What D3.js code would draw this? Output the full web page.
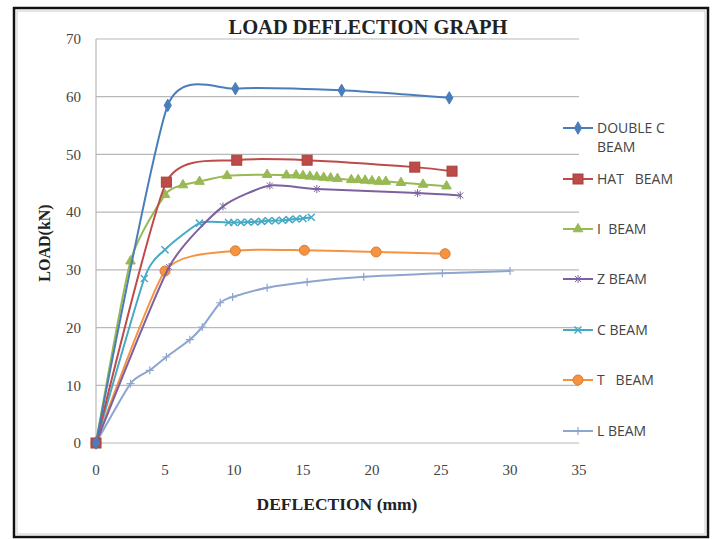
<!DOCTYPE html>
<html>
<head>
<meta charset="utf-8">
<script src="https://cdn.jsdelivr.net/npm/d3@7"></script>
<style>
  body { margin: 0; background: #fff; }
  .tick-label { font-family: "Liberation Serif", "DejaVu Serif", serif; font-size: 15px; fill: #444; }
  .legend-label { font-family: "Open Sans", "Liberation Sans", sans-serif; font-size: 14px; fill: #444; white-space: pre; }
</style>
</head>
<body>
<div id="chart"></div>
<script>
// series names, as in the legend
var seriesNames = ["DOUBLE C\nBEAM", "HAT   BEAM", "I  BEAM", "Z BEAM", "C BEAM", "T   BEAM", "L BEAM"]

// [deflection mm, load kN]
var doubleC = [[0, 0], [5.2, 58.5], [10.1, 61.4], [17.8, 61.1], [25.6, 59.8]]
var hatBeam = [[0, 0], [5.1, 45.2], [10.2, 49], [15.3, 49], [23.1, 47.8], [25.8, 47.1]]
var iBeam = [[0, 0], [2.5, 31.5], [5, 43], [6.3, 44.7], [7.5, 45.3], [9.5, 46.3], [12.4, 46.5],
  [13.8, 46.4], [14.5, 46.4], [15, 46.3], [15.5, 46.2], [16, 46.1], [16.5, 46], [17, 45.9], [17.5, 45.8],
  [18.5, 45.6], [19, 45.6], [19.5, 45.5], [20, 45.4], [20.5, 45.3], [21, 45.3], [22.1, 45.1],
  [23.7, 44.8], [25.4, 44.5]]
var zBeam = [[0, 0], [5.3, 30.5], [9.2, 41], [12.6, 44.6], [16, 44], [23.3, 43.3], [26.4, 42.9]]
var cBeam = [[0, 0], [3.5, 28.5], [5, 33.5], [7.5, 38.1], [9.6, 38.2], [10, 38.2], [10.5, 38.2], [11, 38.3],
  [11.5, 38.3], [12, 38.4], [12.5, 38.5], [13, 38.5], [13.5, 38.6], [14, 38.7], [14.5, 38.8],
  [15, 38.9], [15.6, 39.1]]
var tBeam = [[0, 0], [5, 29.8], [10.1, 33.3], [15.1, 33.4], [20.3, 33.1], [25.3, 32.8]]
var lBeam = [[0, 0], [2.5, 10.3], [3.9, 12.6], [5.1, 14.9], [6.8, 17.9], [7.7, 20.1], [9, 24.3],
  [9.9, 25.3], [12.4, 26.9], [15.3, 27.9], [19.4, 28.8], [25.1, 29.4], [30, 29.8]]

var xTicks = [0, 5, 10, 15, 20, 25, 30, 35]
var yTicks = [0, 10, 20, 30, 40, 50, 60, 70]

var seriesData = [doubleC, hatBeam, iBeam, zBeam, cBeam, tBeam, lBeam]
var colors = ["#4A7EBB", "#BE4B48", "#98B954", "#7D60A0", "#46AAC5", "#F69240", "#8DA5CF"]
var shapes = ["diamond", "square", "triangle", "star", "x", "circle", "plus"]

var W = 715, H = 539
var margin = { top: 39, left: 96, right: 135, bottom: 96 }

var svg = d3.select("#chart").append("svg")
  .attr("width", W)
  .attr("height", H)

// frame
svg.append("rect")
  .attr("x", 14).attr("y", 8).attr("width", 694).attr("height", 529)
  .attr("fill", "#fff").attr("stroke", "#111").attr("stroke-width", 2.5)
svg.append("rect")
  .attr("x", 17).attr("y", 11).attr("width", 688).attr("height", 523)
  .attr("fill", "none").attr("stroke", "#ccc").attr("stroke-width", 1)

var x = d3.scaleLinear().domain([0, 35]).range([margin.left, 579])
var y = d3.scaleLinear().domain([0, 70]).range([443, margin.top])

// gridlines
svg.append("g").selectAll("line")
  .data(yTicks)
  .enter().append("line")
  .attr("x1", x(0)).attr("x2", x(35))
  .attr("y1", function (d) { return y(d) }).attr("y2", function (d) { return y(d) })
  .attr("stroke", "#b8b8b8").attr("stroke-width", 1.2)

svg.append("line")
  .attr("x1", x(0)).attr("x2", x(0)).attr("y1", y(70)).attr("y2", y(0))
  .attr("stroke", "#b8b8b8").attr("stroke-width", 1.2)

// tick labels
svg.append("g").selectAll("text")
  .data(yTicks)
  .enter().append("text")
  .attr("class", "tick-label")
  .attr("x", 81).attr("y", function (d) { return y(d) })
  .attr("dy", "0.35em").attr("text-anchor", "end")
  .text(function (d) { return d })

svg.append("g").selectAll("text")
  .data(xTicks)
  .enter().append("text")
  .attr("class", "tick-label")
  .attr("x", function (d) { return x(d) }).attr("y", 470)
  .attr("dy", "0.35em").attr("text-anchor", "middle")
  .text(function (d) { return d })

// titles
svg.append("text")
  .attr("x", 368).attr("y", 34)
  .attr("text-anchor", "middle")
  .style("font-family", "'Liberation Serif', serif").style("font-weight", "bold").style("font-size", "20.5px")
  .attr("fill", "#222")
  .text("LOAD DEFLECTION GRAPH")

svg.append("text")
  .attr("transform", "translate(50,243) rotate(-90)")
  .attr("text-anchor", "middle")
  .style("font-family", "'Liberation Serif', serif").style("font-weight", "bold").style("font-size", "16px")
  .attr("fill", "#222")
  .text("LOAD(kN)")

svg.append("text")
  .attr("x", 337).attr("y", 510)
  .attr("text-anchor", "middle")
  .style("font-family", "'Liberation Serif', serif").style("font-weight", "bold").style("font-size", "17.5px")
  .attr("fill", "#222")
  .text("DEFLECTION (mm)")

// markers
function drawMarker(g, shape, color, cx, cy) {
  if (shape == "diamond") {
    g.append("path").attr("d", d3.symbol(d3.symbolDiamond, 45)()).attr("transform", "translate(" + cx + "," + cy + ")")
      .attr("fill", color).attr("stroke", color)
  } else if (shape == "square") {
    g.append("rect").attr("x", cx - 5).attr("y", cy - 5).attr("width", 10).attr("height", 10)
      .attr("fill", color).attr("stroke", d3.color(color).darker(0.4))
  } else if (shape == "triangle") {
    g.append("path").attr("d", d3.symbol(d3.symbolTriangle, 40)()).attr("transform", "translate(" + cx + "," + cy + ")")
      .attr("fill", color).attr("stroke", color)
  } else if (shape == "circle") {
    g.append("circle").attr("cx", cx).attr("cy", cy).attr("r", 5)
      .attr("fill", color).attr("stroke", d3.color(color).darker(0.4))
  } else if (shape == "x") {
    g.append("path").attr("d", "M-3.5,-3.5L3.5,3.5M-3.5,3.5L3.5,-3.5").attr("transform", "translate(" + cx + "," + cy + ")")
      .attr("stroke", color).attr("stroke-width", 1.5)
  } else if (shape == "star") {
    g.append("path").attr("d", "M-3,-3L3,3M-3,3L3,-3M0,-4L0,4").attr("transform", "translate(" + cx + "," + cy + ")")
      .attr("stroke", color).attr("stroke-width", 1)
  } else if (shape == "plus") {
    g.append("path").attr("d", "M-4,0L4,0M0,-4L0,4").attr("transform", "translate(" + cx + "," + cy + ")")
      .attr("stroke", color).attr("stroke-width", 1.2)
  }
}

var line = d3.line()
  .x(function (d) { return x(d[0]) })
  .y(function (d) { return y(d[1]) })
  .curve(d3.curveCardinal.tension(0.4))

// draw in reverse so the first series sits on top
for (var i = seriesData.length - 1; i >= 0; i--) {
  var g = svg.append("g")
  g.append("path")
    .attr("d", line(seriesData[i]))
    .attr("fill", "none")
    .attr("stroke", colors[i])
    .attr("stroke-width", 2)
  seriesData[i].forEach(function (p) {
    drawMarker(g, shapes[i], colors[i], x(p[0]), y(p[1]))
  })
}

// legend
var legendY = [128, 179, 229, 279, 330, 380, 431]
seriesNames.forEach(function (name, i) {
  var g = svg.append("g")
  g.append("line")
    .attr("x1", 563).attr("x2", 593).attr("y1", legendY[i]).attr("y2", legendY[i])
    .attr("stroke", colors[i]).attr("stroke-width", 2)
  drawMarker(g, shapes[i], colors[i], 578, legendY[i])
  var t = g.append("text").attr("class", "legend-label")
    .attr("x", 597).attr("y", legendY[i])
  name.split("\n").forEach(function (part, k) {
    t.append("tspan").attr("x", 597).attr("dy", k == 0 ? "0.35em" : "1.35em").text(part)
  })
})
</script>
</body>
</html>
